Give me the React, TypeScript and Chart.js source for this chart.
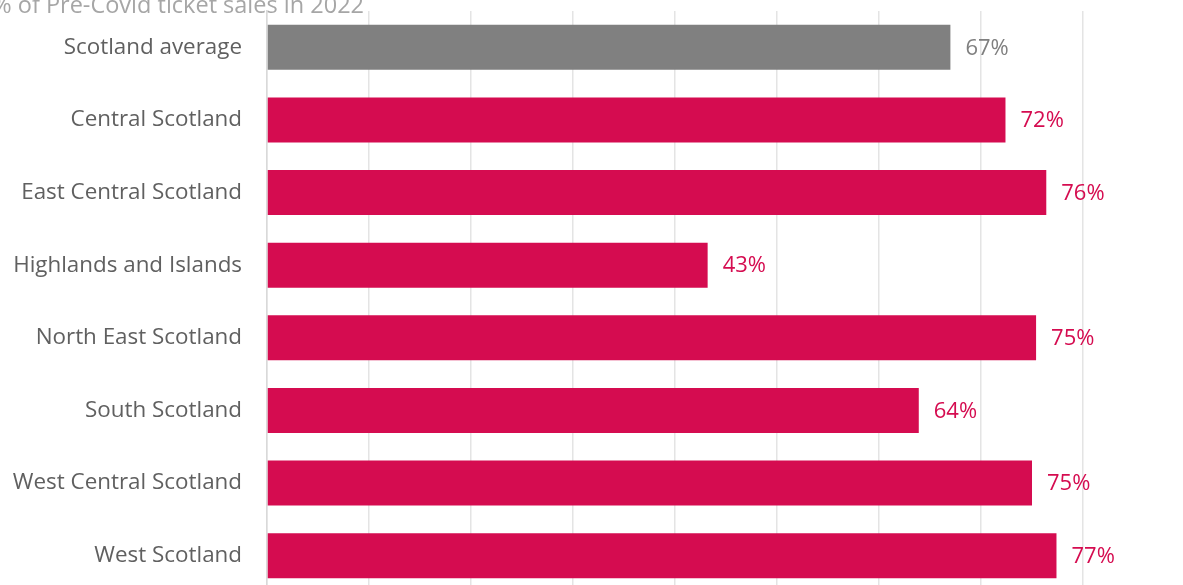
import React, { useEffect, useRef } from "react";
import { Chart, registerables } from "chart.js";

Chart.register(...registerables);

const titleText = "% of Pre-Covid ticket sales in 2022";
const categories = [
  "Scotland average",
  "Central Scotland",
  "East Central Scotland",
  "Highlands and Islands",
  "North East Scotland",
  "South Scotland",
  "West Central Scotland",
  "West Scotland",
];
const values = [67.0, 72.4, 76.4, 43.2, 75.4, 63.9, 75.0, 77.4];
const barColors = ["#808080", "#d50c50", "#d50c50", "#d50c50", "#d50c50", "#d50c50", "#d50c50", "#d50c50"];
const labelColors = ["#7f7f7f", "#d50c50", "#d50c50", "#d50c50", "#d50c50", "#d50c50", "#d50c50", "#d50c50"];
const xMin = 0;
const xMax = 90;
const xStep = 10;

const FONT = "'Open Sans', 'Noto Sans', sans-serif";

const valueLabelPlugin = {
  id: "valueLabels",
  afterDatasetsDraw(chart: any) {
    const ctx = chart.ctx;
    const meta = chart.getDatasetMeta(0);
    ctx.save();
    ctx.font = `22px ${FONT}`;
    ctx.textAlign = "left";
    ctx.textBaseline = "middle";
    meta.data.forEach((bar: any, i: number) => {
      ctx.fillStyle = labelColors[i];
      ctx.fillText(`${Math.round(values[i])}%`, bar.x + 15, bar.y + 1);
    });
    ctx.restore();
  },
};

const titlePlugin = {
  id: "cutTitle",
  afterDraw(chart: any) {
    const ctx = chart.ctx;
    ctx.save();
    ctx.font = `23.5px ${FONT}`;
    ctx.fillStyle = "#a6a6a6";
    ctx.textAlign = "right";
    ctx.textBaseline = "alphabetic";
    ctx.fillText(titleText, 364, 12.5);
    ctx.restore();
  },
};

export default function App() {
  const ref = useRef<HTMLCanvasElement | null>(null);

  useEffect(() => {
    if (!ref.current) return;
    const chart = new Chart(ref.current, {
      type: "bar",
      data: {
        labels: categories,
        datasets: [
          {
            data: values,
            backgroundColor: barColors,
            borderWidth: 0,
            categoryPercentage: 1,
            barPercentage: 0.62,
          },
        ],
      },
      options: {
        indexAxis: "y",
        responsive: false,
        animation: false,
        devicePixelRatio: 1,
        layout: { padding: { top: 11, left: 0, right: 0, bottom: 0 } },
        plugins: {
          legend: { display: false },
          tooltip: { enabled: false },
          title: { display: false },
        },
        scales: {
          x: {
            type: "linear",
            position: "bottom",
            min: xMin,
            max: xMax,
            ticks: { display: false, stepSize: xStep },
            grid: { color: "#e4e4e4", lineWidth: 1.5, drawTicks: false },
            border: { display: false },
            afterFit(scale: any) {
              scale.height = 0;
              scale.paddingLeft = 0;
              scale.paddingRight = 0;
            },
          },
          y: {
            type: "category",
            position: "left",
            grid: { display: false, drawTicks: false },
            border: { display: true, color: "#d9d9d9", width: 1.5 },
            ticks: {
              color: "#606060",
              font: { family: FONT, size: 22.4 },
              padding: 25,
            },
            afterFit(scale: any) {
              scale.width = 267;
              scale.paddingTop = 0;
              scale.paddingBottom = 0;
            },
          },
        },
      },
      plugins: [valueLabelPlugin, titlePlugin],
    });
    return () => chart.destroy();
  }, []);

  return (
    <div
      style={{
        position: "fixed",
        left: 0,
        top: 0,
        width: 1183,
        height: 585,
        overflow: "hidden",
        background: "#ffffff",
      }}
    >
      <canvas ref={ref} width={1185} height={592} style={{ display: "block" }} />
    </div>
  );
}
